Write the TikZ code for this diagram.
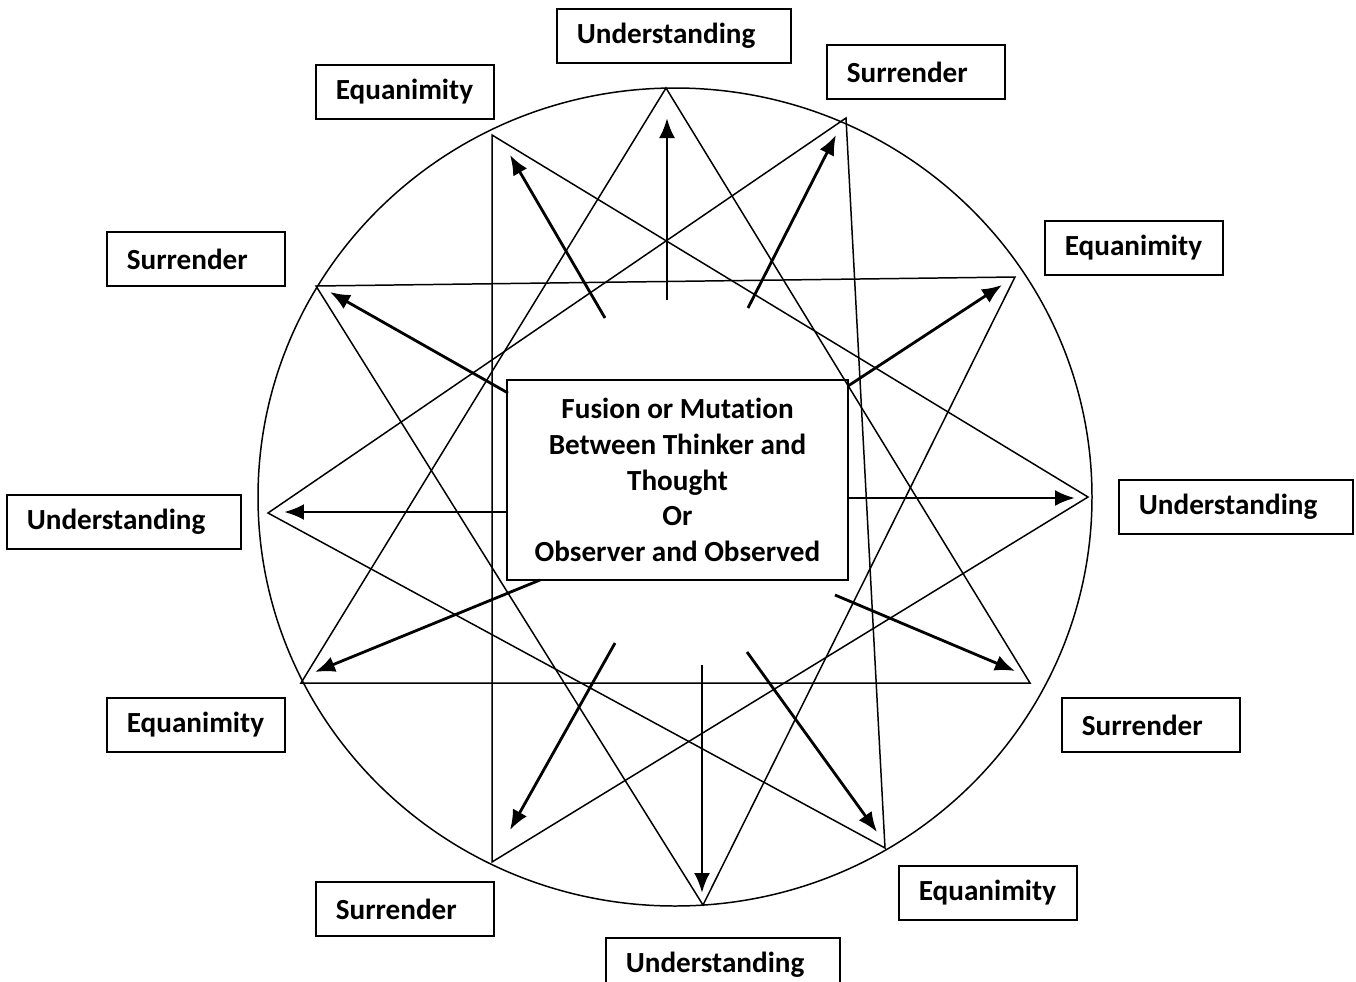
\documentclass[tikz,border=0pt]{standalone}
\usepackage{fontspec}
\setmainfont{Carlito}[Ligatures=NoCommon]
\usetikzlibrary{arrows.meta}
\begin{document}
\begin{tikzpicture}[x=0.02cm,y=-0.02cm,>={Latex[length=0.4cm,width=0.32cm]}]
\tikzset{lbl/.style={draw,line width=1pt,anchor=north west,minimum height=1.08cm,inner xsep=0.4cm,align=left,font=\bfseries\fontsize{16.6}{20}\selectfont},
shortlbl/.style={lbl,text width=2.76cm},
longlbl/.style={lbl,text width=3.88cm},
starline/.style={line width=0.85pt},
ray/.style={->,line width=1.6pt}}
\clip (0,0) rectangle (1356,981);
\draw[starline] (675,497) ellipse [x radius=417, y radius=409];
\coordinate (a1) at (666,88);
\coordinate (a2) at (1030,683);
\coordinate (a3) at (301,683);
\coordinate (b1) at (703,905);
\coordinate (b2) at (316,286);
\coordinate (b3) at (1015,277);
\coordinate (c1) at (268,513);
\coordinate (c2) at (846,118);
\coordinate (c3) at (885,848);
\coordinate (d1) at (1088,497);
\coordinate (d2) at (492,135);
\coordinate (d3) at (492,862);
\foreach \p in {a,b,c,d}
\draw[starline] (\p1) -- (\p2) -- (\p3) -- cycle;
\node[draw,line width=1pt,minimum width=6.82cm,minimum height=4cm,align=center,font=\bfseries\fontsize{16.6}{20.4}\selectfont] (core) at (677.5,480) {Fusion or Mutation\\Between Thinker and\\Thought\\Or\\Observer and Observed};
\foreach \n/\tx/\ty/\hx/\hy in {1/667/300/667/118, 2/605/318/510/155, 3/748/308/836/135, 4/508/393/330/292, 5/508/512/284/512, 6/540/580/315/672, 7/615/643/510/830, 8/702/665/702/893, 9/747/652/877/832, 10/835/595/1015/671, 11/848/498/1075/498, 12/848/386/1002/285}
{
\coordinate (tail\n) at (\tx,\ty);
\coordinate (head\n) at (\hx,\hy);
\draw[ray] (tail\n) -- (head\n);
}
\node[longlbl] (undT) at (556,8) {Understanding};
\node[shortlbl] (surTR) at (826,44) {Surrender};
\node[shortlbl] (equTL) at (315,64) {Equanimity};
\node[shortlbl] (surL) at (106,231) {Surrender};
\node[shortlbl] (equR) at (1044,220) {Equanimity};
\node[longlbl] (undL) at (6,494) {Understanding};
\node[longlbl] (undR) at (1118,479) {Understanding};
\node[shortlbl] (equLL) at (106,697) {Equanimity};
\node[shortlbl] (surLR) at (1061,697) {Surrender};
\node[shortlbl] (surBL) at (315,881) {Surrender};
\node[shortlbl] (equBR) at (898,865) {Equanimity};
\node[longlbl] (undB) at (605,937) {Understanding};
\end{tikzpicture}
\end{document}
